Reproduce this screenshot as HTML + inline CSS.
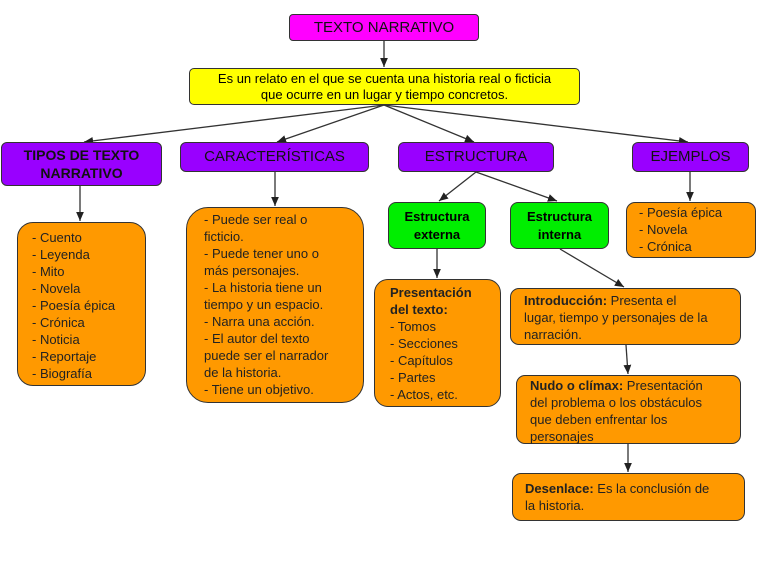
<!DOCTYPE html>
<html><head><meta charset="utf-8"><style>
body{margin:0;width:768px;height:576px;background:#fff;position:relative;overflow:hidden;font-family:"Liberation Sans",sans-serif}
.b{position:absolute;box-sizing:border-box;border:1.5px solid #333;}
.h{background:#9900ff;border-radius:6px;font-size:15px;text-align:center;color:#111;line-height:18px;display:flex;align-items:center;justify-content:center}
.o{background:#ff9900;font-size:13px;line-height:17px;color:#222}
.g{background:#00ee00;border-radius:8px;font-size:13px;font-weight:bold;text-align:center;line-height:18px;display:flex;align-items:center;justify-content:center}
svg{position:absolute;left:0;top:0}
</style></head><body>
<svg width="768" height="576"><defs><marker id="a" markerWidth="8" markerHeight="8" refX="7" refY="4" orient="auto"><path d="M0,1 L7,4 L0,7z" fill="#222"/></marker></defs>
<g stroke="#333" stroke-width="1.3" marker-end="url(#a)">
<line x1="384" y1="41" x2="384" y2="67"/>
<line x1="384" y1="105" x2="84" y2="142"/>
<line x1="384" y1="105" x2="277" y2="142"/>
<line x1="384" y1="105" x2="474" y2="142"/>
<line x1="384" y1="105" x2="688" y2="142"/>
<line x1="80" y1="186" x2="80" y2="221"/>
<line x1="275" y1="172" x2="275" y2="206"/>
<line x1="476" y1="172" x2="439" y2="201"/>
<line x1="476" y1="172" x2="557" y2="201"/>
<line x1="690" y1="172" x2="690" y2="201"/>
<line x1="437" y1="249" x2="437" y2="278"/>
<line x1="560" y1="249" x2="624" y2="287"/>
<line x1="626" y1="345" x2="628" y2="374"/>
<line x1="628" y1="444" x2="628" y2="472"/>
</g></svg>
<div class="b h" style="left:289px;top:14px;width:190px;height:27px;background:#ff00ff;border-radius:4px">TEXTO NARRATIVO</div>
<div class="b" style="left:189px;top:68px;width:391px;height:37px;background:#ffff00;border-radius:5px;font-size:13px;text-align:center;line-height:16px;padding-top:2px">Es un relato en el que se cuenta una historia real o ficticia<br>que ocurre en un lugar y tiempo concretos.</div>
<div class="b h" style="left:1px;top:142px;width:161px;height:44px;font-weight:bold;font-size:14px">TIPOS DE TEXTO<br>NARRATIVO</div>
<div class="b h" style="left:180px;top:142px;width:189px;height:30px">CARACTERÍSTICAS</div>
<div class="b h" style="left:398px;top:142px;width:156px;height:30px">ESTRUCTURA</div>
<div class="b h" style="left:632px;top:142px;width:117px;height:30px">EJEMPLOS</div>
<div class="b o" style="left:17px;top:222px;width:129px;height:164px;border-radius:16px;padding:6px 0 0 14px">- Cuento<br>- Leyenda<br>- Mito<br>- Novela<br>- Poesía épica<br>- Crónica<br>- Noticia<br>- Reportaje<br>- Biografía</div>
<div class="b o" style="left:186px;top:207px;width:178px;height:196px;border-radius:22px;padding:3px 0 0 17px">- Puede ser real o<br>ficticio.<br>- Puede tener uno o<br>más personajes.<br>- La historia tiene un<br>tiempo y un espacio.<br>- Narra una acción.<br>- El autor del texto<br>puede ser el narrador<br>de la historia.<br>- Tiene un objetivo.</div>
<div class="b o" style="left:626px;top:202px;width:130px;height:56px;border-radius:9px;padding:1px 0 0 12px">- Poesía épica<br>- Novela<br>- Crónica</div>
<div class="b g" style="left:388px;top:202px;width:98px;height:47px">Estructura<br>externa</div>
<div class="b g" style="left:510px;top:202px;width:99px;height:47px">Estructura<br>interna</div>
<div class="b o" style="left:374px;top:279px;width:127px;height:128px;border-radius:14px;padding:4px 0 0 15px"><b>Presentación<br>del texto:</b><br>- Tomos<br>- Secciones<br>- Capítulos<br>- Partes<br>- Actos, etc.</div>
<div class="b o" style="left:510px;top:288px;width:231px;height:57px;border-radius:9px;padding:3px 0 0 13px"><b>Introducción:</b> Presenta el<br>lugar, tiempo y personajes de la<br>narración.</div>
<div class="b o" style="left:516px;top:375px;width:225px;height:69px;border-radius:9px;padding:1px 0 0 13px"><b>Nudo o clímax:</b> Presentación<br>del problema o los obstáculos<br>que deben enfrentar los<br>personajes</div>
<div class="b o" style="left:512px;top:473px;width:233px;height:48px;border-radius:9px;padding:6px 0 0 12px"><b>Desenlace:</b> Es la conclusión de<br>la historia.</div>
</body></html>
